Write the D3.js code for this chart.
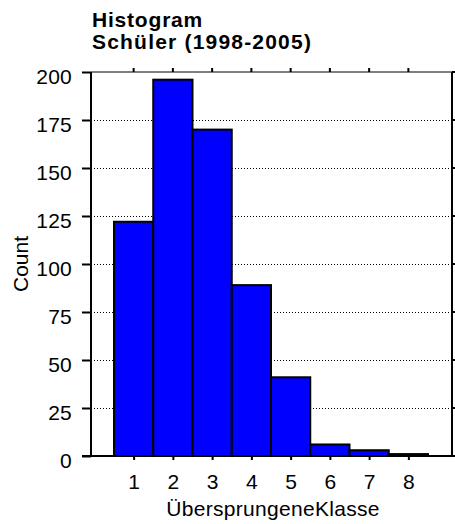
<!DOCTYPE html>
<html><head><meta charset="utf-8">
<script src="https://cdn.jsdelivr.net/npm/d3@7"></script>
<style>
body{margin:0;background:#fff;}
text{font-family:"Liberation Sans",Arial,sans-serif;fill:#000;}
</style></head>
<body>
<svg id="chart" width="455" height="524"></svg>
<script>
const categories = [1, 2, 3, 4, 5, 6, 7, 8];
const counts = [122, 196, 170, 89, 41, 6, 3, 1];
const yTicks = [0, 25, 50, 75, 100, 125, 150, 175, 200];
const titleLines = ["Histogram", "Schüler (1998-2005)"];
const xLabel = "ÜbersprungeneKlasse";
const yLabel = "Count";

const svg = d3.select("#chart");
const L = 91, R = 452, T = 72, B = 456;
const x = d3.scaleLinear().domain([0.5, 8.5]).range([114, 428]);
const y = d3.scaleLinear().domain([0, 200]).range([B, T]);
const FF = "'Liberation Sans',Arial,sans-serif";

// gridlines
svg.append("g").selectAll("line").data(yTicks.filter(d => d > 0 && d < 200)).join("line")
  .attr("x1", L).attr("x2", R).attr("y1", d => y(d)).attr("y2", d => y(d))
  .attr("stroke", "#000").attr("stroke-width", 1).attr("stroke-dasharray", "1,2")
  .attr("shape-rendering", "crispEdges");

// bars
svg.append("g").selectAll("rect").data(categories).join("rect")
  .attr("x", (d) => x(d - 0.5)).attr("width", d => x(d + 0.5) - x(d - 0.5))
  .attr("y", (d, i) => y(counts[i])).attr("height", (d, i) => y(0) - y(counts[i]))
  .attr("fill", "#0000ff").attr("stroke", "#000").attr("stroke-width", 2);

// frame
svg.append("line").attr("x1", L).attr("x2", R).attr("y1", T).attr("y2", T)
  .attr("stroke", "#000").attr("stroke-width", 1);
svg.append("line").attr("x1", R).attr("x2", R).attr("y1", T).attr("y2", B)
  .attr("stroke", "#000").attr("stroke-width", 2);

// left axis
const yAxis = d3.axisLeft(y).tickValues(yTicks).tickSize(9).tickPadding(10);
const gy = svg.append("g").attr("transform", `translate(${L},0)`).call(yAxis);
gy.select(".domain").attr("stroke-width", 2).attr("d", `M0,${T}V${B}`);
gy.selectAll(".tick line").attr("stroke-width", 2);
gy.selectAll(".tick text").attr("font-size", 21).attr("dy", "0.53em")
  .attr("font-family", FF).attr("letter-spacing", "0.2px");

// right ticks
svg.append("g").selectAll("line").data(yTicks).join("line")
  .attr("x1", R).attr("x2", R + 4).attr("y1", d => y(d)).attr("y2", d => y(d))
  .attr("stroke", "#000").attr("stroke-width", 2);

// bottom axis
const xAxis = d3.axisBottom(x).tickValues(categories).tickSize(4).tickPadding(14).tickFormat(d3.format("d"));
const gx = svg.append("g").attr("transform", `translate(0,${B})`).call(xAxis);
gx.select(".domain").attr("stroke-width", 2).attr("d", `M${L - 9},0H${R + 3}`);
gx.selectAll(".tick line").attr("stroke-width", 2);
gx.selectAll(".tick text").attr("font-size", 21).attr("font-family", FF);

// top ticks
svg.append("g").selectAll("line").data(categories).join("line")
  .attr("x1", d => x(d)).attr("x2", d => x(d)).attr("y1", T).attr("y2", T - 4)
  .attr("stroke", "#000").attr("stroke-width", 2);

// titles
svg.append("g").selectAll("text").data(titleLines).join("text")
  .attr("x", 92).attr("y", (d, i) => 27 + i * 22)
  .attr("font-size", 21).attr("font-weight", "bold")
  .attr("letter-spacing", (d, i) => i === 0 ? "0.8px" : "1.2px").text(d => d);

// axis labels
svg.append("text").attr("x", 273).attr("y", 516).attr("text-anchor", "middle")
  .attr("font-size", 21).attr("letter-spacing", "0.3px").text(xLabel);
svg.append("text").attr("transform", `translate(28,${(T + B) / 2}) rotate(-90)`)
  .attr("text-anchor", "middle").attr("font-size", 21).text(yLabel);
</script>
</body></html>
